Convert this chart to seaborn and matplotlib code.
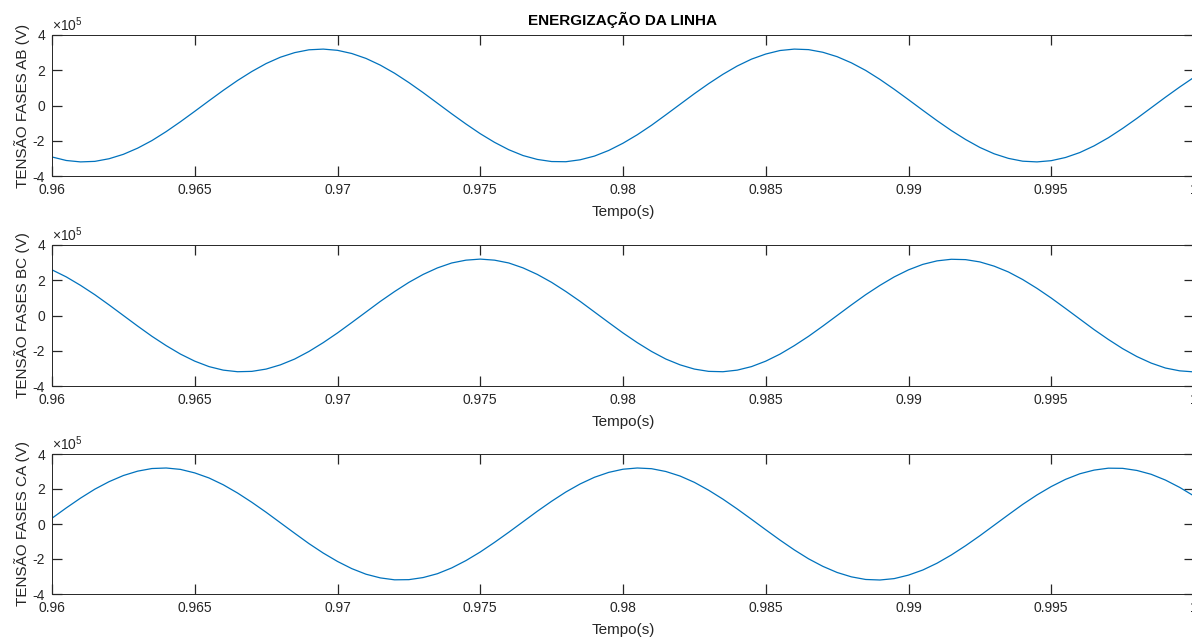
import matplotlib
matplotlib.use("Agg")
import matplotlib.pyplot as plt
import seaborn as sns
import pandas as pd
from matplotlib.ticker import FuncFormatter

# ---------------- data ----------------
TIME_S = [0.9600, 0.9605, 0.9610, 0.9615, 0.9620, 0.9625, 0.9630, 0.9635, 0.9640, 0.9645,
          0.9650, 0.9655, 0.9660, 0.9665, 0.9670, 0.9675, 0.9680, 0.9685, 0.9690, 0.9695,
          0.9700, 0.9705, 0.9710, 0.9715, 0.9720, 0.9725, 0.9730, 0.9735, 0.9740, 0.9745,
          0.9750, 0.9755, 0.9760, 0.9765, 0.9770, 0.9775, 0.9780, 0.9785, 0.9790, 0.9795,
          0.9800, 0.9805, 0.9810, 0.9815, 0.9820, 0.9825, 0.9830, 0.9835, 0.9840, 0.9845,
          0.9850, 0.9855, 0.9860, 0.9865, 0.9870, 0.9875, 0.9880, 0.9885, 0.9890, 0.9895,
          0.9900, 0.9905, 0.9910, 0.9915, 0.9920, 0.9925, 0.9930, 0.9935, 0.9940, 0.9945,
          0.9950, 0.9955, 0.9960, 0.9965, 0.9970, 0.9975, 0.9980, 0.9985, 0.9990, 0.9995,
          1.0000]

# voltages in units of 1e5 V
V_AB = [-2.92, -3.12, -3.20, -3.17, -3.02, -2.77, -2.42, -1.99, -1.48, -0.92,
        -0.33, 0.27, 0.86, 1.42, 1.93, 2.38, 2.74, 3.00, 3.16, 3.20,
        3.13, 2.95, 2.67, 2.29, 1.83, 1.30, 0.73, 0.13, -0.47, -1.05,
        -1.60, -2.09, -2.51, -2.84, -3.06, -3.18, -3.19, -3.08, -2.87, -2.55,
        -2.14, -1.66, -1.12, -0.53, 0.07, 0.67, 1.24, 1.77, 2.24, 2.63,
        2.92, 3.12, 3.20, 3.17, 3.02, 2.77, 2.42, 1.99, 1.48, 0.92,
        0.33, -0.27, -0.86, -1.42, -1.93, -2.38, -2.74, -3.00, -3.16, -3.20,
        -3.13, -2.95, -2.67, -2.29, -1.83, -1.30, -0.73, -0.13, 0.47, 1.05,
        1.60]
V_BC = [2.59, 2.19, 1.71, 1.18, 0.60, 0.00, -0.60, -1.18, -1.71, -2.19,
        -2.59, -2.90, -3.10, -3.19, -3.17, -3.04, -2.80, -2.47, -2.04, -1.54,
        -0.99, -0.40, 0.20, 0.80, 1.36, 1.88, 2.33, 2.70, 2.98, 3.14,
        3.20, 3.14, 2.98, 2.70, 2.33, 1.88, 1.36, 0.80, 0.20, -0.40,
        -0.99, -1.54, -2.04, -2.47, -2.80, -3.04, -3.17, -3.19, -3.10, -2.90,
        -2.59, -2.19, -1.71, -1.18, -0.60, 0.00, 0.60, 1.18, 1.71, 2.19,
        2.59, 2.90, 3.10, 3.19, 3.17, 3.04, 2.80, 2.47, 2.04, 1.54,
        0.99, 0.40, -0.20, -0.80, -1.36, -1.88, -2.33, -2.70, -2.98, -3.14,
        -3.20]
V_CA = [0.33, 0.92, 1.48, 1.99, 2.42, 2.77, 3.02, 3.17, 3.20, 3.12,
        2.92, 2.63, 2.24, 1.77, 1.24, 0.67, 0.07, -0.53, -1.12, -1.66,
        -2.14, -2.55, -2.87, -3.08, -3.19, -3.18, -3.06, -2.84, -2.51, -2.09,
        -1.60, -1.05, -0.47, 0.13, 0.73, 1.30, 1.83, 2.29, 2.67, 2.95,
        3.13, 3.20, 3.16, 3.00, 2.74, 2.38, 1.93, 1.42, 0.86, 0.27,
        -0.33, -0.92, -1.48, -1.99, -2.42, -2.77, -3.02, -3.17, -3.20, -3.12,
        -2.92, -2.63, -2.24, -1.77, -1.24, -0.67, -0.07, 0.53, 1.12, 1.66,
        2.14, 2.55, 2.87, 3.08, 3.19, 3.18, 3.06, 2.84, 2.51, 2.09,
        1.60]
SCALE = 1e5

SERIES_NAMES = ["AB", "BC", "CA"]
YLABELS = ["TENSÃO FASES AB (V)", "TENSÃO FASES BC (V)", "TENSÃO FASES CA (V)"]
TITLE = "ENERGIZAÇÃO DA LINHA"
XLABEL = "Tempo(s)"
XTICKS = [0.96, 0.965, 0.97, 0.975, 0.98, 0.985, 0.99, 0.995, 1.0]
XTICK_LABELS = ["0.96", "0.965", "0.97", "0.975", "0.98", "0.985", "0.99", "0.995", "1"]
YTICKS = [-4e5, -2e5, 0, 2e5, 4e5]
OFFSET_LABEL = r"$\times10^{5}$"

# ---------------- style ----------------
sns.set_style("ticks")
plt.rcParams.update({
    "font.family": ["Liberation Sans", "DejaVu Sans"],
    "mathtext.fontset": "custom",
    "mathtext.rm": "Liberation Sans",
    "mathtext.default": "regular",
    "axes.unicode_minus": False,
    "axes.edgecolor": "#262626",
    "axes.linewidth": 0.7,
    "xtick.color": "#262626",
    "ytick.color": "#262626",
    "xtick.direction": "in",
    "ytick.direction": "in",
    "xtick.top": True,
    "ytick.right": True,
    "xtick.major.size": 7.5,
    "ytick.major.size": 7.5,
    "xtick.major.width": 0.9,
    "ytick.major.width": 0.9,
    "xtick.labelsize": 10,
    "ytick.labelsize": 10,
    "axes.labelsize": 11,
})

fig = plt.figure(figsize=(11.92, 6.39), dpi=100)
W, H = 1192, 639
left_px, right_px = 52, 1194
boxes = [(35, 176), (245, 386), (454, 594)]

df = pd.DataFrame({
    "t": TIME_S * 3,
    "v": [v * SCALE for v in V_AB + V_BC + V_CA],
    "fase": sum([[n] * len(TIME_S) for n in SERIES_NAMES], []),
})

yfmt = FuncFormatter(lambda v, pos: f"{v / SCALE:g}")

for i, (name, (top, bot)) in enumerate(zip(SERIES_NAMES, boxes)):
    ax = fig.add_axes([left_px / W, 1 - bot / H, (right_px - left_px) / W, (bot - top) / H])
    sns.lineplot(data=df[df["fase"] == name], x="t", y="v", ax=ax,
                 color="#0072BD", linewidth=0.9, legend=False)
    ax.set_xlim(0.96, 1.0)
    ax.set_ylim(-4e5, 4e5)
    ax.set_xticks(XTICKS, XTICK_LABELS)
    ax.set_yticks(YTICKS)
    ax.yaxis.set_major_formatter(yfmt)
    ax.text(0.0, 1.01, OFFSET_LABEL, transform=ax.transAxes, ha="left", va="bottom",
            fontsize=10, color="#262626")
    ax.set_xlabel(XLABEL, fontsize=11, color="#262626", labelpad=6)
    ax.set_ylabel(YLABELS[i], fontsize=11, color="#262626", labelpad=2)
    ax.tick_params(axis="x", pad=5)
    ax.tick_params(axis="y", pad=5)
    for s in ax.spines.values():
        s.set_visible(True)
    if i == 0:
        ax.set_title(TITLE, fontsize=11, fontweight="bold", color="#000000", pad=7)

fig.savefig("out.png", dpi=100)
